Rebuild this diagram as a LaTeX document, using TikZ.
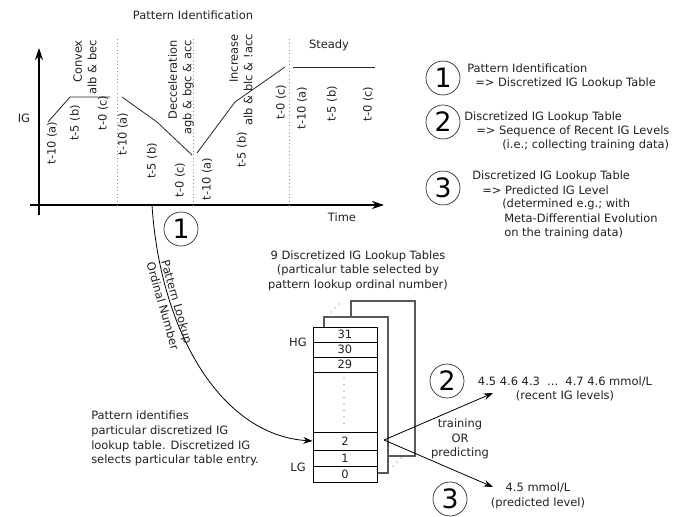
\documentclass[tikz,border=0pt]{standalone}
\usepackage{fontspec}
\setmainfont{DejaVu Sans}
\usetikzlibrary{arrows.meta}
\begin{document}
\begin{tikzpicture}[x=0.75pt,y=-0.75pt,
  txt/.style={font=\fontsize{8.6}{10.9}\selectfont, text=black!87, inner sep=0pt},
  vtxt/.style={txt, rotate=90},
  circ/.style={circle, draw=black!85, line width=0.5pt, minimum size=25.5pt, inner sep=0pt, font=\fontsize{20}{20}\selectfont},
  seg/.style={line width=0.6pt, black!85},
  sepline/.style={black!45, dotted, line width=0.7pt},
  arr/.style={-{Stealth[length=7pt,width=5pt]}, line width=0.6pt},
  axis/.style={-{Stealth[length=9pt,width=6pt]}, line width=0.9pt},
  cell/.style={draw, fill=white, line width=0.6pt, minimum width=48pt, inner sep=0pt, txt},
  back/.style={draw=black!65, fill=white, line width=0.8pt},
  dot/.style={fill=black!60, draw=none}
]
\useasboundingbox (0,0) rectangle (690,517);

% ---------- chart ----------
\node[txt] (title) at (193,15) {Pattern Identification};
\coordinate (yb) at (39,215);
\coordinate (yt) at (39,48);
\coordinate (xa) at (30,205);
\coordinate (xb) at (384,205);
\draw[axis] (yb) -- (yt);
\draw[axis] (xa) -- (xb);
\node[txt] (ig) at (24,118) {IG};
\node[txt] (time) at (342,217) {Time};

\draw[sepline] (117,39) -- (117,205);
\draw[sepline] (193,39) -- (193,205);
\draw[sepline] (289,39) -- (289,205);

% convex
\draw[seg] (48,122) -- (70,97) -- (110,97);
\node[vtxt, align=right, anchor=east] (cvx) at (85,40) {Convex\\alb \& bec};
\node[vtxt] (c1) at (52,143) {t-10 (a)};
\node[vtxt] (c2) at (75,123) {t-5 (b)};
\node[vtxt] (c3) at (103,113) {t-0 (c)};
% deceleration
\draw[seg] (122,97) -- (157,122) -- (192,155);
\node[vtxt, align=right, anchor=east] (dec) at (181,40) {Decceleration\\agb \& bgc \& acc};
\node[vtxt] (d1) at (123,134) {t-10 (a)};
\node[vtxt] (d2) at (152,161) {t-5 (b)};
\node[vtxt] (d3) at (180,180) {t-0 (c)};
% increase
\draw[seg] (197,153) -- (235,102) -- (285,67);
\node[vtxt, align=right, anchor=east] (inc) at (241,34) {Increase\\alb \& blc \& !acc};
\node[vtxt] (i1) at (207,179) {t-10 (a)};
\node[vtxt] (i2) at (242,150) {t-5 (b)};
\node[vtxt] (i3) at (281,102) {t-0 (c)};
% steady
\draw[seg] (293,67) -- (375,67);
\node[txt] (std) at (329,45) {Steady};
\node[vtxt] (s1) at (302,108) {t-10 (a)};
\node[vtxt] (s2) at (332,104) {t-5 (b)};
\node[vtxt] (s3) at (368,104) {t-0 (c)};

% ---------- legend ----------
\node[circ] (L1) at (443,78) {1};
\node[txt, anchor=west] (l1a) at (467,68) {Pattern Identification};
\node[txt, anchor=west] (l1b) at (475,83) {=> Discretized IG Lookup Table};
\node[circ] (L2) at (443,122) {2};
\node[txt, anchor=west] (l2a) at (464,117) {Discretized IG Lookup Table};
\node[txt, anchor=west] (l2b) at (476,131) {=> Sequence of Recent IG Levels};
\node[txt, anchor=west] (l2c) at (502,145) {(i.e.; collecting training data)};
\node[circ] (L3) at (443,188) {3};
\node[txt, anchor=west] (l3a) at (472,176) {Discretized IG Lookup Table};
\node[txt, anchor=west] (l3b) at (482,190) {=> Predicted IG Level};
\node[txt, anchor=west] (l3c) at (502,204) {(determined e.g.; with};
\node[txt, anchor=west] (l3d) at (504,218) {Meta-Differential Evolution};
\node[txt, anchor=west] (l3e) at (504,233) {on the training data)};

% ---------- lookup tables ----------
\node[circ] (C1) at (181,229) {1};
\node[txt, align=center] (nine) at (358,270.5) {9 Discretized IG Lookup Tables\\(particalur table selected by\\pattern lookup ordinal number)};

\draw[back] (351,301) rectangle (415,456);
\draw[back] (324,317) rectangle (388,473);
\foreach \p in {(331,312),(335,308),(339,304),(393,466),(397,462),(401,458)}
  \fill[dot] \p circle (0.5pt);

\node[cell, minimum height=11.25pt] (r31) at (345,334.5) {31};
\node[cell, minimum height=11.25pt] (r30) at (345,349.5) {30};
\node[cell, minimum height=11.25pt] (r29) at (345,364.5) {29};
\node[cell, minimum height=45pt] (rdots) at (345,402) {};
\node[cell, minimum height=13.5pt] (r2) at (345,441) {2};
\node[cell, minimum height=12pt] (r1) at (345,458) {1};
\node[cell, minimum height=12pt] (r0) at (345,474) {0};
\foreach \k in {0,...,7}
  \fill[dot] (344,378+\k*6.5) circle (0.4pt);
\node[txt] (hg) at (298,342) {HG};
\node[txt] (lg) at (298,467) {LG};

\coordinate (cs) at (152,205);
\draw[arr] (cs) .. controls (160,330) and (220,435) .. (r2.west);
\node[txt, rotate=-74, align=center] (plon) at (170,304) {Pattern Lookup\\Ordinal Number};

\node[txt, anchor=north west, align=left] (expl) at (91,411) {Pattern identifies\\particular discretized IG\\lookup table. Discretized IG\\selects particular table entry.};

% ---------- outputs ----------
\coordinate (fork) at (384,440);
\coordinate (e2) at (493,393);
\coordinate (e3) at (493,487);
\draw[arr] (fork) -- (e2);
\draw[arr] (fork) -- (e3);
\node[txt, align=center] (tp) at (460,439) {training\\OR\\predicting};
\node[circ] (C2) at (447,381) {2};
\node[circ] (C3) at (450,499) {3};
\node[txt, align=center] (vals) at (565,389) {4.5 4.6 4.3\ \ ...\ \ 4.7 4.6 mmol/L\\(recent IG levels)};
\node[txt, align=center] (pred) at (538,496) {4.5 mmol/L\\(predicted level)};
\end{tikzpicture}
\end{document}
